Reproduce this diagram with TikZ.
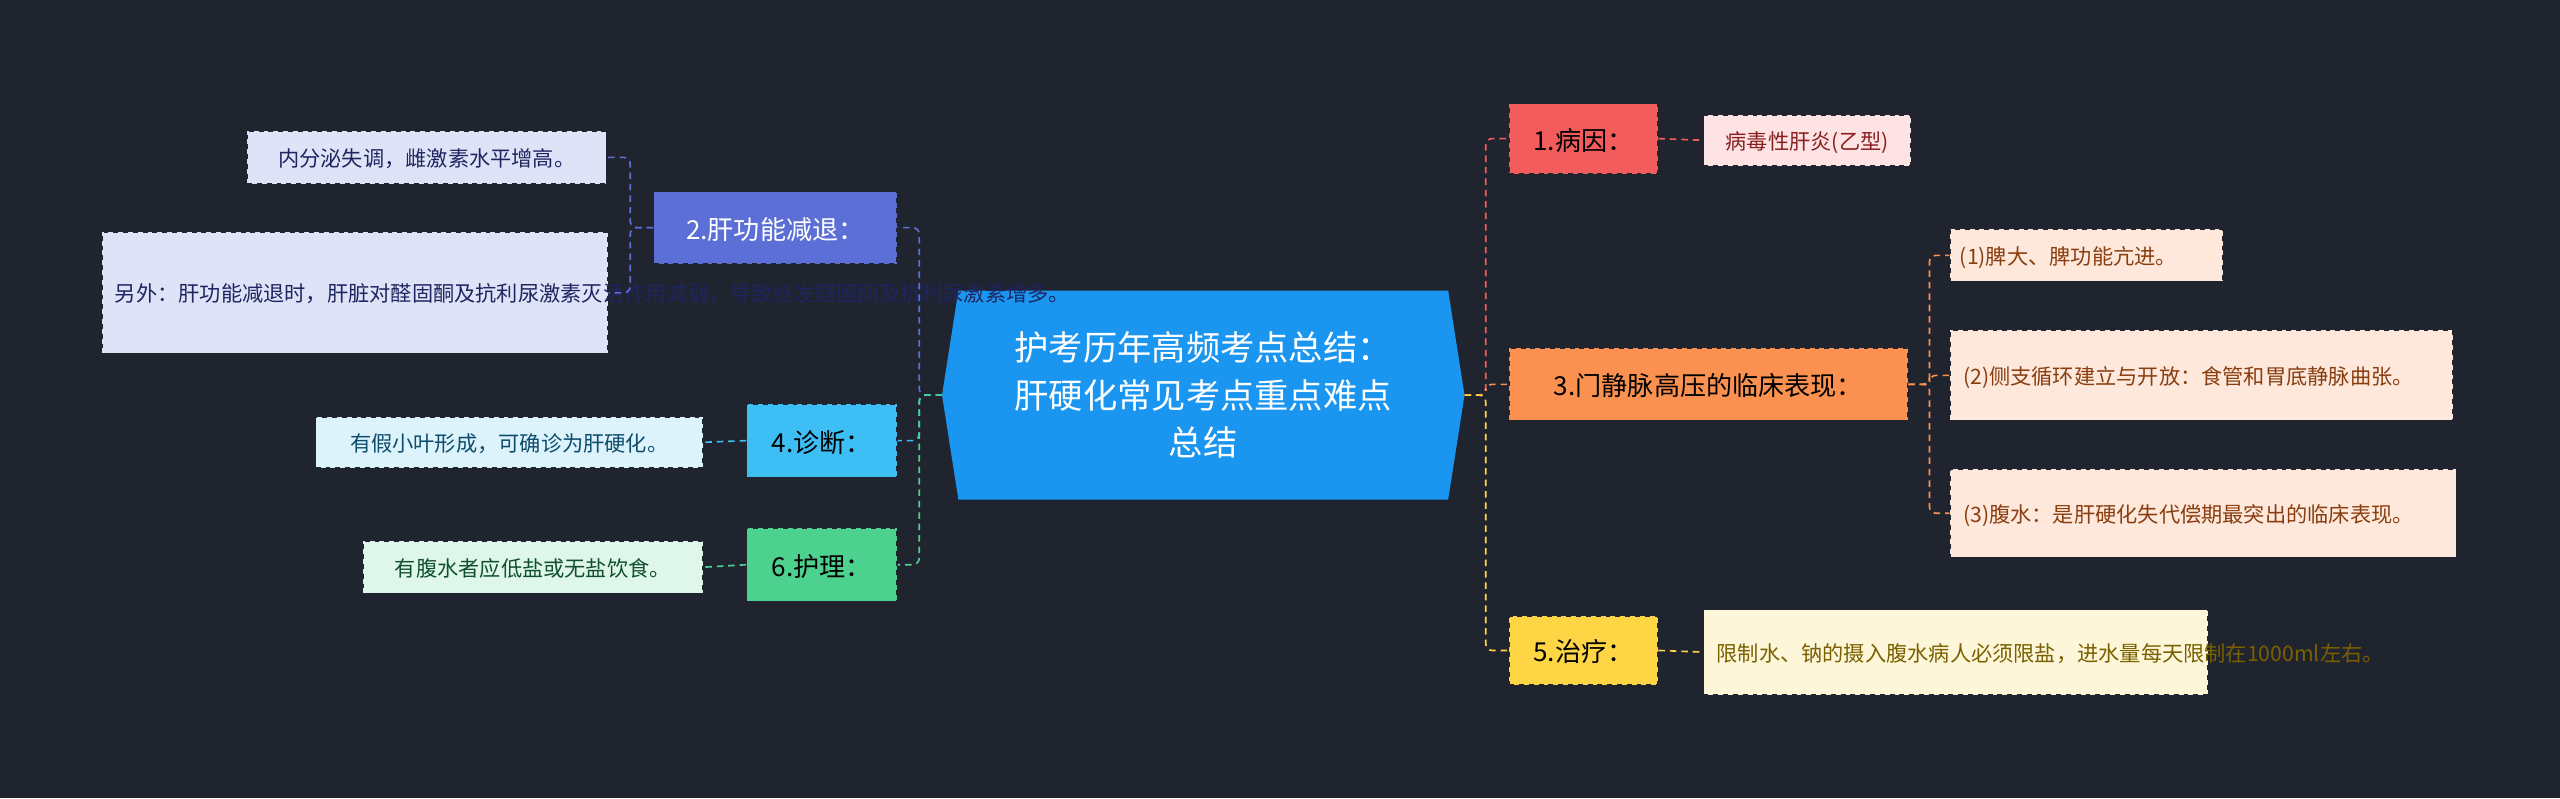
\documentclass[tikz,border=0pt]{standalone}
\usepackage{fontspec}
\setmainfont{Noto Sans CJK SC}
\begin{document}
\begin{tikzpicture}[x=1pt,y=-1pt,
  box/.style={draw=bgc,dashed,line width=0.8pt,inner sep=0pt,anchor=north west,text depth=0pt},
  conn/.style={dashed,line width=1pt,rounded corners=4pt,dash pattern=on 4pt off 3pt},
  lf/.style={font=\fontsize{13}{19}\selectfont},
  br/.style={font=\fontsize{16}{20}\selectfont}]
\definecolor{bgc}{HTML}{20242F}
\definecolor{cred}{HTML}{F25C5C}\definecolor{lred}{HTML}{FDE3E3}\definecolor{tred}{HTML}{8A1F1F}
\definecolor{cor}{HTML}{FB9150}\definecolor{lor}{HTML}{FDE8DB}\definecolor{tor}{HTML}{8A3E10}
\definecolor{cye}{HTML}{FDD545}\definecolor{lye}{HTML}{FDF6D8}\definecolor{tye}{HTML}{7A6000}
\definecolor{cin}{HTML}{5B6FD6}\definecolor{lin}{HTML}{DFE3F7}\definecolor{tin}{HTML}{1E2560}
\definecolor{ccy}{HTML}{3DBFF5}\definecolor{lcy}{HTML}{DCF3FC}\definecolor{tcy}{HTML}{0D4C6B}
\definecolor{cgr}{HTML}{4CD28E}\definecolor{lgr}{HTML}{DFF7EA}\definecolor{tgr}{HTML}{10502F}
\definecolor{cbl}{HTML}{1A96F0}
\fill[bgc] (0,0) rectangle (1568,489);
\useasboundingbox (0,0) rectangle (1568,489);
% center
\fill[cbl] (587,178) -- (887,178) -- (897,242) -- (887,306) -- (587,306) -- (577,242) -- cycle;
\node[text=white,align=center,font=\fontsize{21}{29}\selectfont] (c) at (737,242) {护考历年高频考点总结：\\肝硬化常见考点重点难点\\总结};
\coordinate (cr) at (897,242); \coordinate (cl) at (577,242);
% right branches
\node[box,fill=cred,minimum width=91,minimum height=43,br] (b1) at (924,63) {\strut 1.病因：};
\node[box,fill=cor,minimum width=244,minimum height=44,br] (b3) at (924,213) {\strut 3.门静脉高压的临床表现：};
\node[box,fill=cye,minimum width=91,minimum height=42,br] (b5) at (924,377) {\strut 5.治疗：};
% left branches
\node[box,fill=cin,minimum width=149,minimum height=44,br,text=white] (b2) at (400,117) {\strut 2.肝功能减退：};
\node[box,fill=ccy,minimum width=92,minimum height=45,br] (b4) at (457,247) {\strut 4.诊断：};
\node[box,fill=cgr,minimum width=92,minimum height=45,br] (b6) at (457,323) {\strut 6.护理：};
% leaves
\node[box,fill=lred,text=tred,minimum width=127,minimum height=31,lf] (l1) at (1043,70) {病毒性肝炎(乙型)};
\node[box,fill=lor,text=tor,minimum width=167,minimum height=32,lf,align=left,text width=155] (l31) at (1194,140) {\hspace*{0pt}(1)脾大、脾功能亢进。};
\node[box,fill=lor,text=tor,minimum height=55,lf,align=left,text width=292,inner xsep=8pt] (l32) at (1194,202) {(2)侧支循环建立与开放：食管和胃底静脉曲张。};
\node[box,fill=lor,text=tor,minimum height=54,lf,align=left,text width=294,inner xsep=8pt] (l33) at (1194,287) {(3)腹水：是肝硬化失代偿期最突出的临床表现。};
\node[box,fill=lye,text=tye,minimum height=52,lf,align=left,text width=293,inner xsep=8pt] (l5) at (1043,373) {限制水、钠的摄入腹水病人必须限盐，进水量每天限制在1000ml左右。};
\node[box,fill=lin,text=tin,minimum width=220,minimum height=32,lf] (l21) at (151,80) {内分泌失调，雌激素水平增高。};
\node[box,fill=lin,text=tin,minimum height=74,lf,align=left,text width=294,inner xsep=8pt] (l22) at (62,142) {另外：肝功能减退时，肝脏对醛固酮及抗利尿激素灭活作用减弱，导致继发醛固酮及抗利尿激素增多。};
\node[box,fill=lcy,text=tcy,minimum width=237,minimum height=31,lf] (l4) at (193,255) {有假小叶形成，可确诊为肝硬化。};
\node[box,fill=lgr,text=tgr,minimum width=208,minimum height=32,lf] (l6) at (222,331) {有腹水者应低盐或无盐饮食。};
% center connectors
\draw[conn,cred] (cr) -- ++(13,0) |- (b1.west);
\draw[conn,cor] (cr) -- ++(13,0) |- (b3.west);
\draw[conn,cye] (cr) -- ++(13,0) |- (b5.west);
\draw[conn,cin] (cl) -- ++(-14,0) |- (b2.east);
\draw[conn,ccy] (cl) -- ++(-14,0) |- (b4.east);
\draw[conn,cgr] (cl) -- ++(-14,0) |- (b6.east);
% leaf connectors
\draw[conn,cred] (b1.east) -- (l1.west);
\draw[conn,cor] (b3.east) -- ++(13,0) |- (l31.west);
\draw[conn,cor] (b3.east) -- ++(13,0) |- (l32.west);
\draw[conn,cor] (b3.east) -- ++(13,0) |- (l33.west);
\draw[conn,cye] (b5.east) -- (l5.west);
\draw[conn,cin] (b2.west) -- ++(-14,0) |- (l21.east);
\draw[conn,cin] (b2.west) -- ++(-14,0) |- (l22.east);
\draw[conn,ccy] (b4.west) -- (l4.east);
\draw[conn,cgr] (b6.west) -- (l6.east);
\end{tikzpicture}
\end{document}
